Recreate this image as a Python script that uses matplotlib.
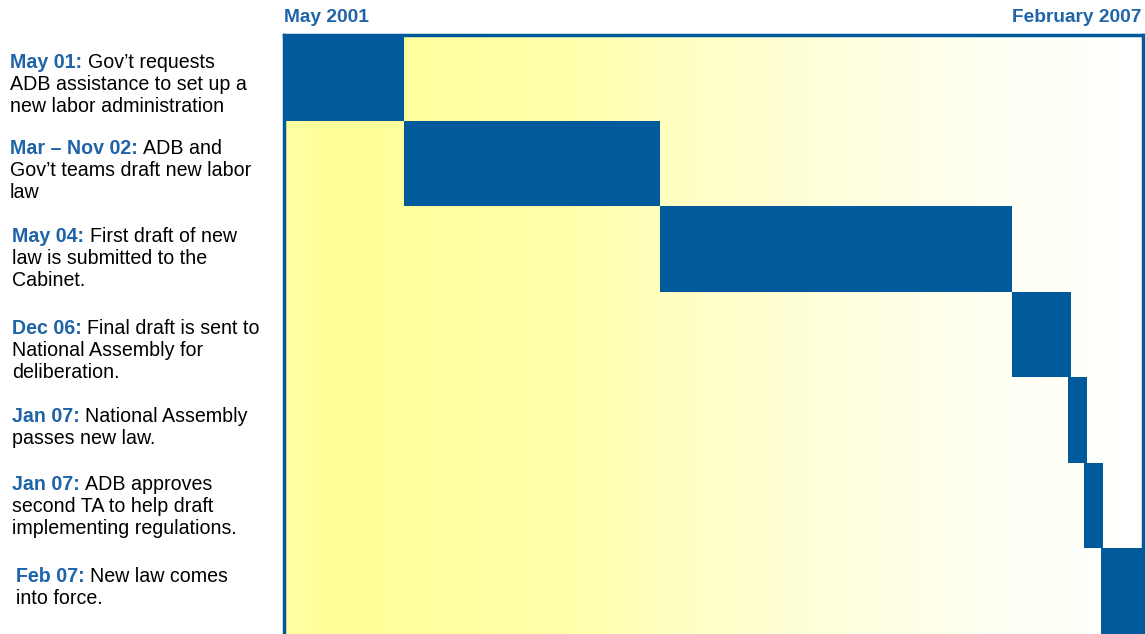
import numpy as np
import matplotlib.pyplot as plt
from matplotlib.colors import LinearSegmentedColormap

plt.rcParams['font.family'] = ['Liberation Sans', 'DejaVu Sans']

# months since May 2001
bar_start = [0, 9.6, 30.2, 58.5, 63.0, 64.3, 65.6]
bar_end = [9.6, 30.2, 58.5, 63.2, 64.5, 65.8, 69]
span_start = 'May 2001'
span_end = 'February 2007'
total_months = 69

event_dates = ['May 01:', 'Mar \u2013 Nov 02:', 'May 04:', 'Dec 06:', 'Jan 07:', 'Jan 07:', 'Feb 07:']
event_text = [
    ['Gov\u2019t requests', 'ADB assistance to set up a', 'new labor administration'],
    ['ADB and', 'Gov\u2019t teams draft new labor', 'law'],
    ['First draft of new', 'law is submitted to the', 'Cabinet.'],
    ['Final draft is sent to', 'National Assembly for', 'deliberation.'],
    ['National Assembly', 'passes new law.'],
    ['ADB approves', 'second TA to help draft', 'implementing regulations.'],
    ['New law comes', 'into force.'],
]

blue = '#005A9C'
label_blue = '#1F64A8'
W, H = 1145, 634

fig = plt.figure(figsize=(W / 100, H / 100), dpi=100)
ax = fig.add_axes([284 / W, 0, (1143 - 284) / W, (H - 35) / H])

n = len(bar_start)
ax.set_xlim(0, total_months)
ax.set_ylim(n, 0)

# yellow -> white background gradient
cmap = LinearSegmentedColormap.from_list('bg', [(0, '#FFFFA2'), (0.045, '#FFFF99'), (0.14, '#FFFF9C'),
                                                 (0.345, '#FFFFAD'), (0.48, '#FFFFC6'), (0.68, '#FFFFE2'),
                                                 (0.83, '#FFFFF4'), (1, '#FFFFFF')])
grad = np.linspace(0, 1, 512).reshape(1, -1)
ax.imshow(grad, cmap=cmap, extent=[0, total_months, n, 0], aspect='auto', zorder=0)

ax.barh(np.arange(n), np.array(bar_end) - np.array(bar_start), left=bar_start,
        height=1, align='edge', color=blue, zorder=2)

ax.set_xticks([])
ax.set_yticks([])
for s in ['left', 'top', 'right']:
    ax.spines[s].set_color(blue)
    ax.spines[s].set_linewidth(2.5)
ax.spines['bottom'].set_visible(False)

fig.text(284 / W, 1 - 17 / H, span_start, color=label_blue, fontsize=13.8, fontweight='bold',
         ha='left', va='center')
fig.text(1141 / W, 1 - 17 / H, span_end, color=label_blue, fontsize=13.8, fontweight='bold',
         ha='right', va='center')

# left side event descriptions
first_y = [62, 148, 236, 328, 416, 484, 576]
first_x = [10, 10, 12, 12, 12, 12, 16]
line_gap = 22.5
fs = 14.1
renderer = fig.canvas.get_renderer()
for i in range(n):
    x0 = first_x[i]
    y0 = first_y[i]
    t = fig.text(x0 / W, 1 - y0 / H, event_dates[i] + ' ', color=label_blue, fontsize=fs,
                 fontweight='bold', ha='left', va='center')
    bb = t.get_window_extent(renderer)
    fig.text(bb.x1 / W, 1 - y0 / H, event_text[i][0], color='black', fontsize=fs,
             ha='left', va='center')
    for k, line in enumerate(event_text[i][1:]):
        fig.text(x0 / W, 1 - (y0 + (k + 1) * line_gap) / H, line, color='black', fontsize=fs,
                 ha='left', va='center')

plt.savefig('out.png', dpi=100)
plt.close()
